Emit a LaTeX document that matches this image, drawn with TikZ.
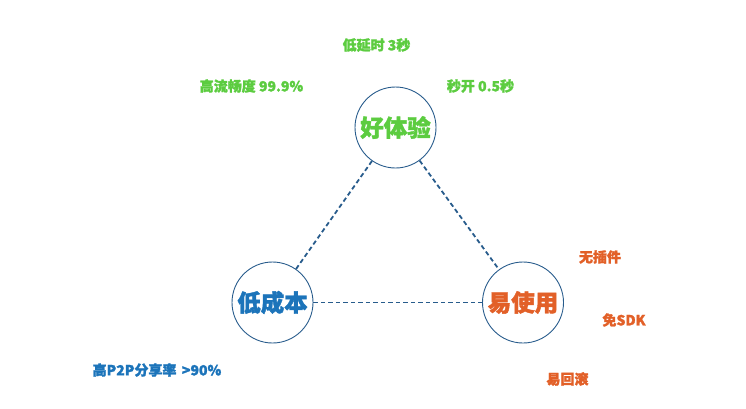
\documentclass[tikz,border=0pt]{standalone}
\usepackage{fontspec}
\setmainfont{Noto Sans CJK SC}[FakeBold=1.6]
\definecolor{gtxt}{RGB}{92,204,64}
\definecolor{btxt}{RGB}{28,116,186}
\definecolor{otxt}{RGB}{226,96,40}
\definecolor{ring}{RGB}{40,92,140}
\begin{document}
\begin{tikzpicture}[x=1pt,y=-1pt,
  circ/.style={circle,draw=ring,line width=0.9pt,minimum size=81pt,inner sep=0pt,font=\bfseries\fontsize{23.5}{25}\selectfont},
  lbl/.style={font=\bfseries\fontsize{14}{15}\selectfont,inner sep=0pt},
  link/.style={draw=ring,line width=1.8pt,dash pattern=on 4.5pt off 3pt}]
\useasboundingbox (0,0) rectangle (746,408);
\node[circ,text=gtxt] (good) at (395.5,127.5) {好体验};
\node[circ,text=btxt] (cheap) at (272.5,302.5) {低成本};
\node[circ,text=otxt] (easy) at (523,302.5) {易使用};
\path[link] (good) -- (cheap);
\path[link] (good) -- (easy);
\path[link] (cheap) -- (easy);
\node[lbl,text=gtxt] (l1) at (376.5,45) {低延时 3秒};
\node[lbl,text=gtxt] (l2) at (251.5,86) {高流畅度 99.9\%};
\node[lbl,text=gtxt] (l3) at (480.5,86) {秒开 0.5秒};
\node[lbl,text=btxt] (l4) at (157,370) {高P2P分享率 \,>90\%};
\node[lbl,text=otxt] (l5) at (600,257) {无插件};
\node[lbl,text=otxt] (l6) at (624,320) {免SDK};
\node[lbl,text=otxt] (l7) at (567.5,379) {易回滚};
\end{tikzpicture}
\end{document}
